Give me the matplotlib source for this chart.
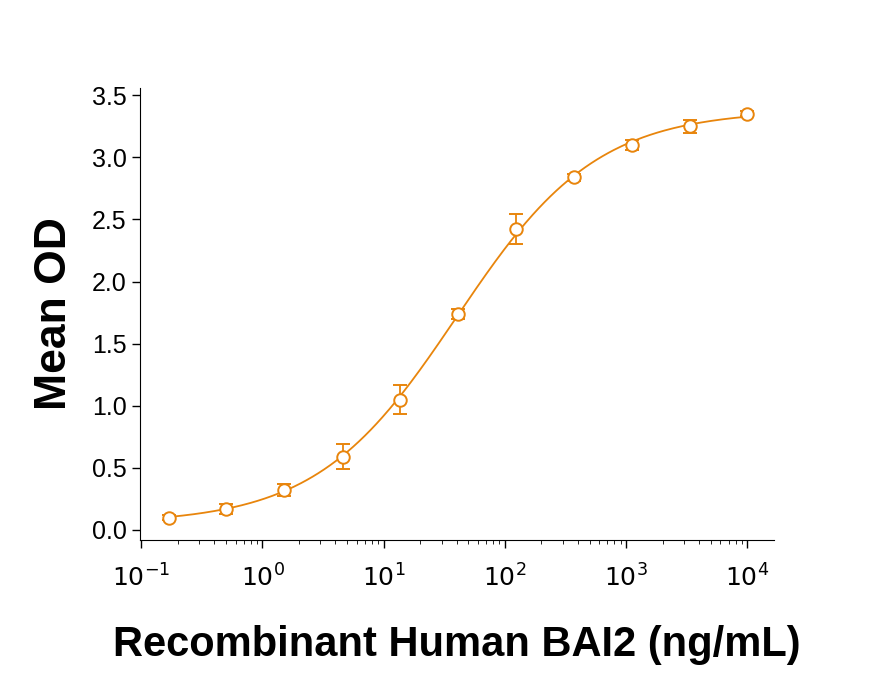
import numpy as np
import matplotlib
matplotlib.use("Agg")
import matplotlib.pyplot as plt

conc = [0.17, 0.5, 1.5, 4.6, 13.7, 41, 123, 370, 1111, 3333, 10000]
od = [0.10, 0.17, 0.32, 0.59, 1.05, 1.74, 2.42, 2.84, 3.10, 3.25, 3.35]
err = [0.02, 0.04, 0.05, 0.10, 0.12, 0.04, 0.12, 0.03, 0.04, 0.05, 0.02]
# 4PL fit parameters (bottom, top, EC50, hill)
fit_bottom, fit_top, fit_ec50, fit_hill = 0.05, 3.38, 40.0, 0.75

color = "#E8850C"
fig = plt.figure(figsize=(8.73, 6.86), dpi=100)
ax = fig.add_axes([0.160, 0.213, 0.727, 0.659])

xs = np.logspace(np.log10(conc[0]), np.log10(conc[-1]), 400)
ys = fit_bottom + (fit_top - fit_bottom) / (1 + (fit_ec50 / xs) ** fit_hill)
ax.plot(xs, ys, color=color, lw=1.3)
ax.errorbar(conc, od, yerr=err, fmt="o", mfc="white", mec=color, ecolor=color,
            ms=9, mew=1.4, capsize=5, elinewidth=1.3, capthick=1.3)

ax.set_xscale("log")
ax.set_xlim(0.097, 1.67e4)
ax.set_ylim(-0.08, 3.56)
ax.set_yticks(np.arange(0, 3.51, 0.5))
ax.set_yticklabels([f"{v:.1f}" for v in np.arange(0, 3.51, 0.5)])
ax.set_xticks([1e-1, 1e0, 1e1, 1e2, 1e3, 1e4])
ax.set_xticklabels([r"$10^{-1}$", r"$10^{0}$", r"$10^{1}$", r"$10^{2}$", r"$10^{3}$", r"$10^{4}$"])
for s in ["top", "right"]:
    ax.spines[s].set_visible(False)
ax.tick_params(labelsize=18, length=6, width=1)
ax.tick_params(axis="x", pad=12)
ax.tick_params(which="minor", length=3)
for lab in ax.get_xticklabels() + ax.get_yticklabels():
    lab.set_fontfamily("Liberation Sans")
ax.set_ylabel("Mean OD", fontsize=32, fontweight="bold", fontfamily="Liberation Sans", labelpad=12)
ax.set_xlabel("Recombinant Human BAI2 (ng/mL)", fontsize=30, fontweight="bold",
              fontfamily="Liberation Sans", labelpad=24)
fig.savefig("out.png", dpi=100)
